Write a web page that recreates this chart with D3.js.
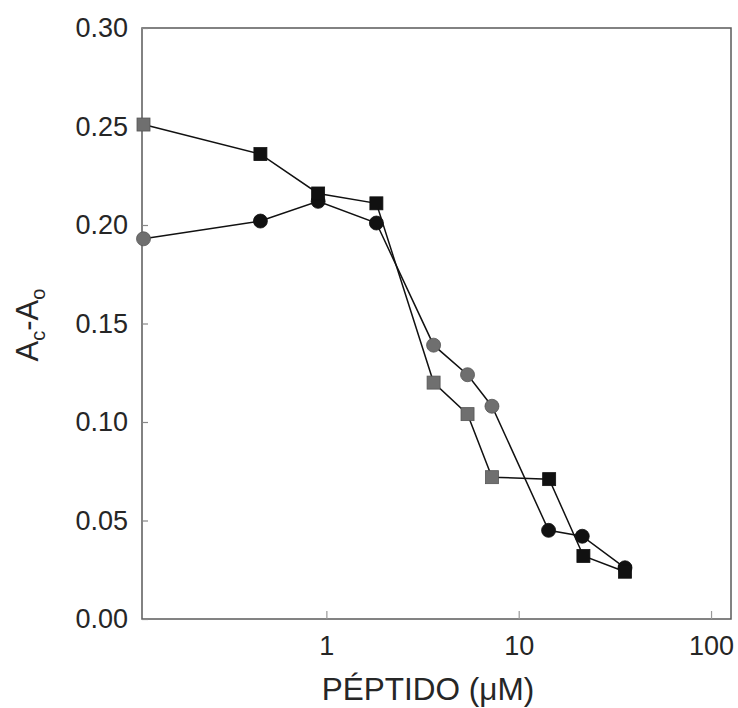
<!DOCTYPE html>
<html>
<head>
<meta charset="utf-8">
<script src="https://cdn.jsdelivr.net/npm/d3@7"></script>
<style>
  html, body { margin: 0; padding: 0; background: #fff; }
  svg { display: block; font-family: "Liberation Sans", Arial, sans-serif; }
</style>
</head>
<body>
<svg id="chart" width="738" height="708"></svg>
<script>
// Peptide concentration (µM) for each series
const concSquares = [0.112, 0.454, 0.906, 1.82, 3.61, 5.42, 7.26, 14.4, 21.7, 35.7];
const concCircles = [0.112, 0.454, 0.906, 1.82, 3.61, 5.42, 7.26, 14.3, 21.4, 35.7];
// Absorbance difference Ac - Ao
const valSquares = [0.251, 0.236, 0.216, 0.211, 0.120, 0.104, 0.072, 0.071, 0.032, 0.024];
const valCircles = [0.193, 0.202, 0.212, 0.201, 0.139, 0.124, 0.108, 0.045, 0.042, 0.026];
// Marker shade: "g" = grey, "k" = black
const shadeSquares = ["g", "k", "k", "k", "g", "g", "g", "k", "k", "k"];
const shadeCircles = ["g", "k", "k", "k", "g", "g", "g", "k", "k", "k"];
// Axis ticks
const xTicks = [1, 10, 100];
const yTicks = [0, 0.05, 0.10, 0.15, 0.20, 0.25, 0.30];
const xTitle = "PÉPTIDO (\u03BCM)";

const plot = { left: 142, top: 28, right: 731, bottom: 619 };
const svg = d3.select("#chart");

const x = d3.scaleLog().domain([0.11, 127]).range([plot.left, plot.right]);
const y = d3.scaleLinear().domain([0, 0.30]).range([plot.bottom, plot.top]);

const shadeColor = { g: "#6f6f6f", k: "#111" };
const axisColor = "#5a5a5a";
const textColor = "#262626";

// Frame
svg.append("rect")
  .attr("x", plot.left).attr("y", plot.top)
  .attr("width", plot.right - plot.left).attr("height", plot.bottom - plot.top)
  .attr("fill", "none").attr("stroke", axisColor).attr("stroke-width", 1.5);

// X axis (ticks point into the plot)
const gx = svg.append("g")
  .attr("transform", `translate(0,${plot.bottom})`)
  .call(d3.axisBottom(x).tickValues(xTicks).tickFormat(d3.format("d"))
    .tickSizeInner(-8).tickSizeOuter(0).tickPadding(17));
gx.select(".domain").remove();
gx.selectAll(".tick line").attr("stroke", "#999").attr("stroke-width", 1.2);
gx.selectAll(".tick text").attr("font-size", 27).attr("fill", textColor);

// Y axis
const gy = svg.append("g")
  .attr("transform", `translate(${plot.left},0)`)
  .call(d3.axisLeft(y).tickValues(yTicks).tickFormat(d3.format(".2f"))
    .tickSizeInner(-6).tickSizeOuter(0).tickPadding(14));
gy.select(".domain").remove();
gy.selectAll(".tick line").attr("stroke", "#888").attr("stroke-width", 1.2);
gy.selectAll(".tick text").attr("font-size", 27).attr("fill", textColor);

// Axis titles
svg.append("text")
  .attr("x", 428).attr("y", 700)
  .attr("text-anchor", "middle")
  .attr("font-size", 31.5).attr("fill", textColor)
  .text(xTitle);

const yt = svg.append("text")
  .attr("transform", "translate(38,325) rotate(-90)")
  .attr("text-anchor", "middle")
  .attr("font-size", 31).attr("fill", textColor);
yt.append("tspan").text("A");
yt.append("tspan").attr("font-size", 20).attr("dy", 7).text("c");
yt.append("tspan").attr("dy", -7).text("-A");
yt.append("tspan").attr("font-size", 20).attr("dy", 7).text("o");

// Series data
const circles = concCircles.map((c, i) => ({ c, v: valCircles[i], s: shadeCircles[i] }));
const squares = concSquares.map((c, i) => ({ c, v: valSquares[i], s: shadeSquares[i] }));

const line = d3.line().x(d => x(d.c)).y(d => y(d.v));

svg.append("path").datum(circles).attr("d", line)
  .attr("fill", "none").attr("stroke", "#111").attr("stroke-width", 1.5);
svg.append("path").datum(squares).attr("d", line)
  .attr("fill", "none").attr("stroke", "#111").attr("stroke-width", 1.5);

svg.append("g").selectAll("circle").data(circles).join("circle")
  .attr("cx", d => x(d.c)).attr("cy", d => y(d.v)).attr("r", 7)
  .attr("fill", d => shadeColor[d.s])
  .attr("stroke", d => d.s === "g" ? "#555" : "#111").attr("stroke-width", 0.8);

const side = 13;
svg.append("g").selectAll("rect").data(squares).join("rect")
  .attr("x", d => x(d.c) - side / 2).attr("y", d => y(d.v) - side / 2)
  .attr("width", side).attr("height", side)
  .attr("fill", d => shadeColor[d.s])
  .attr("stroke", d => d.s === "g" ? "#555" : "#111").attr("stroke-width", 0.8);
</script>
</body>
</html>
